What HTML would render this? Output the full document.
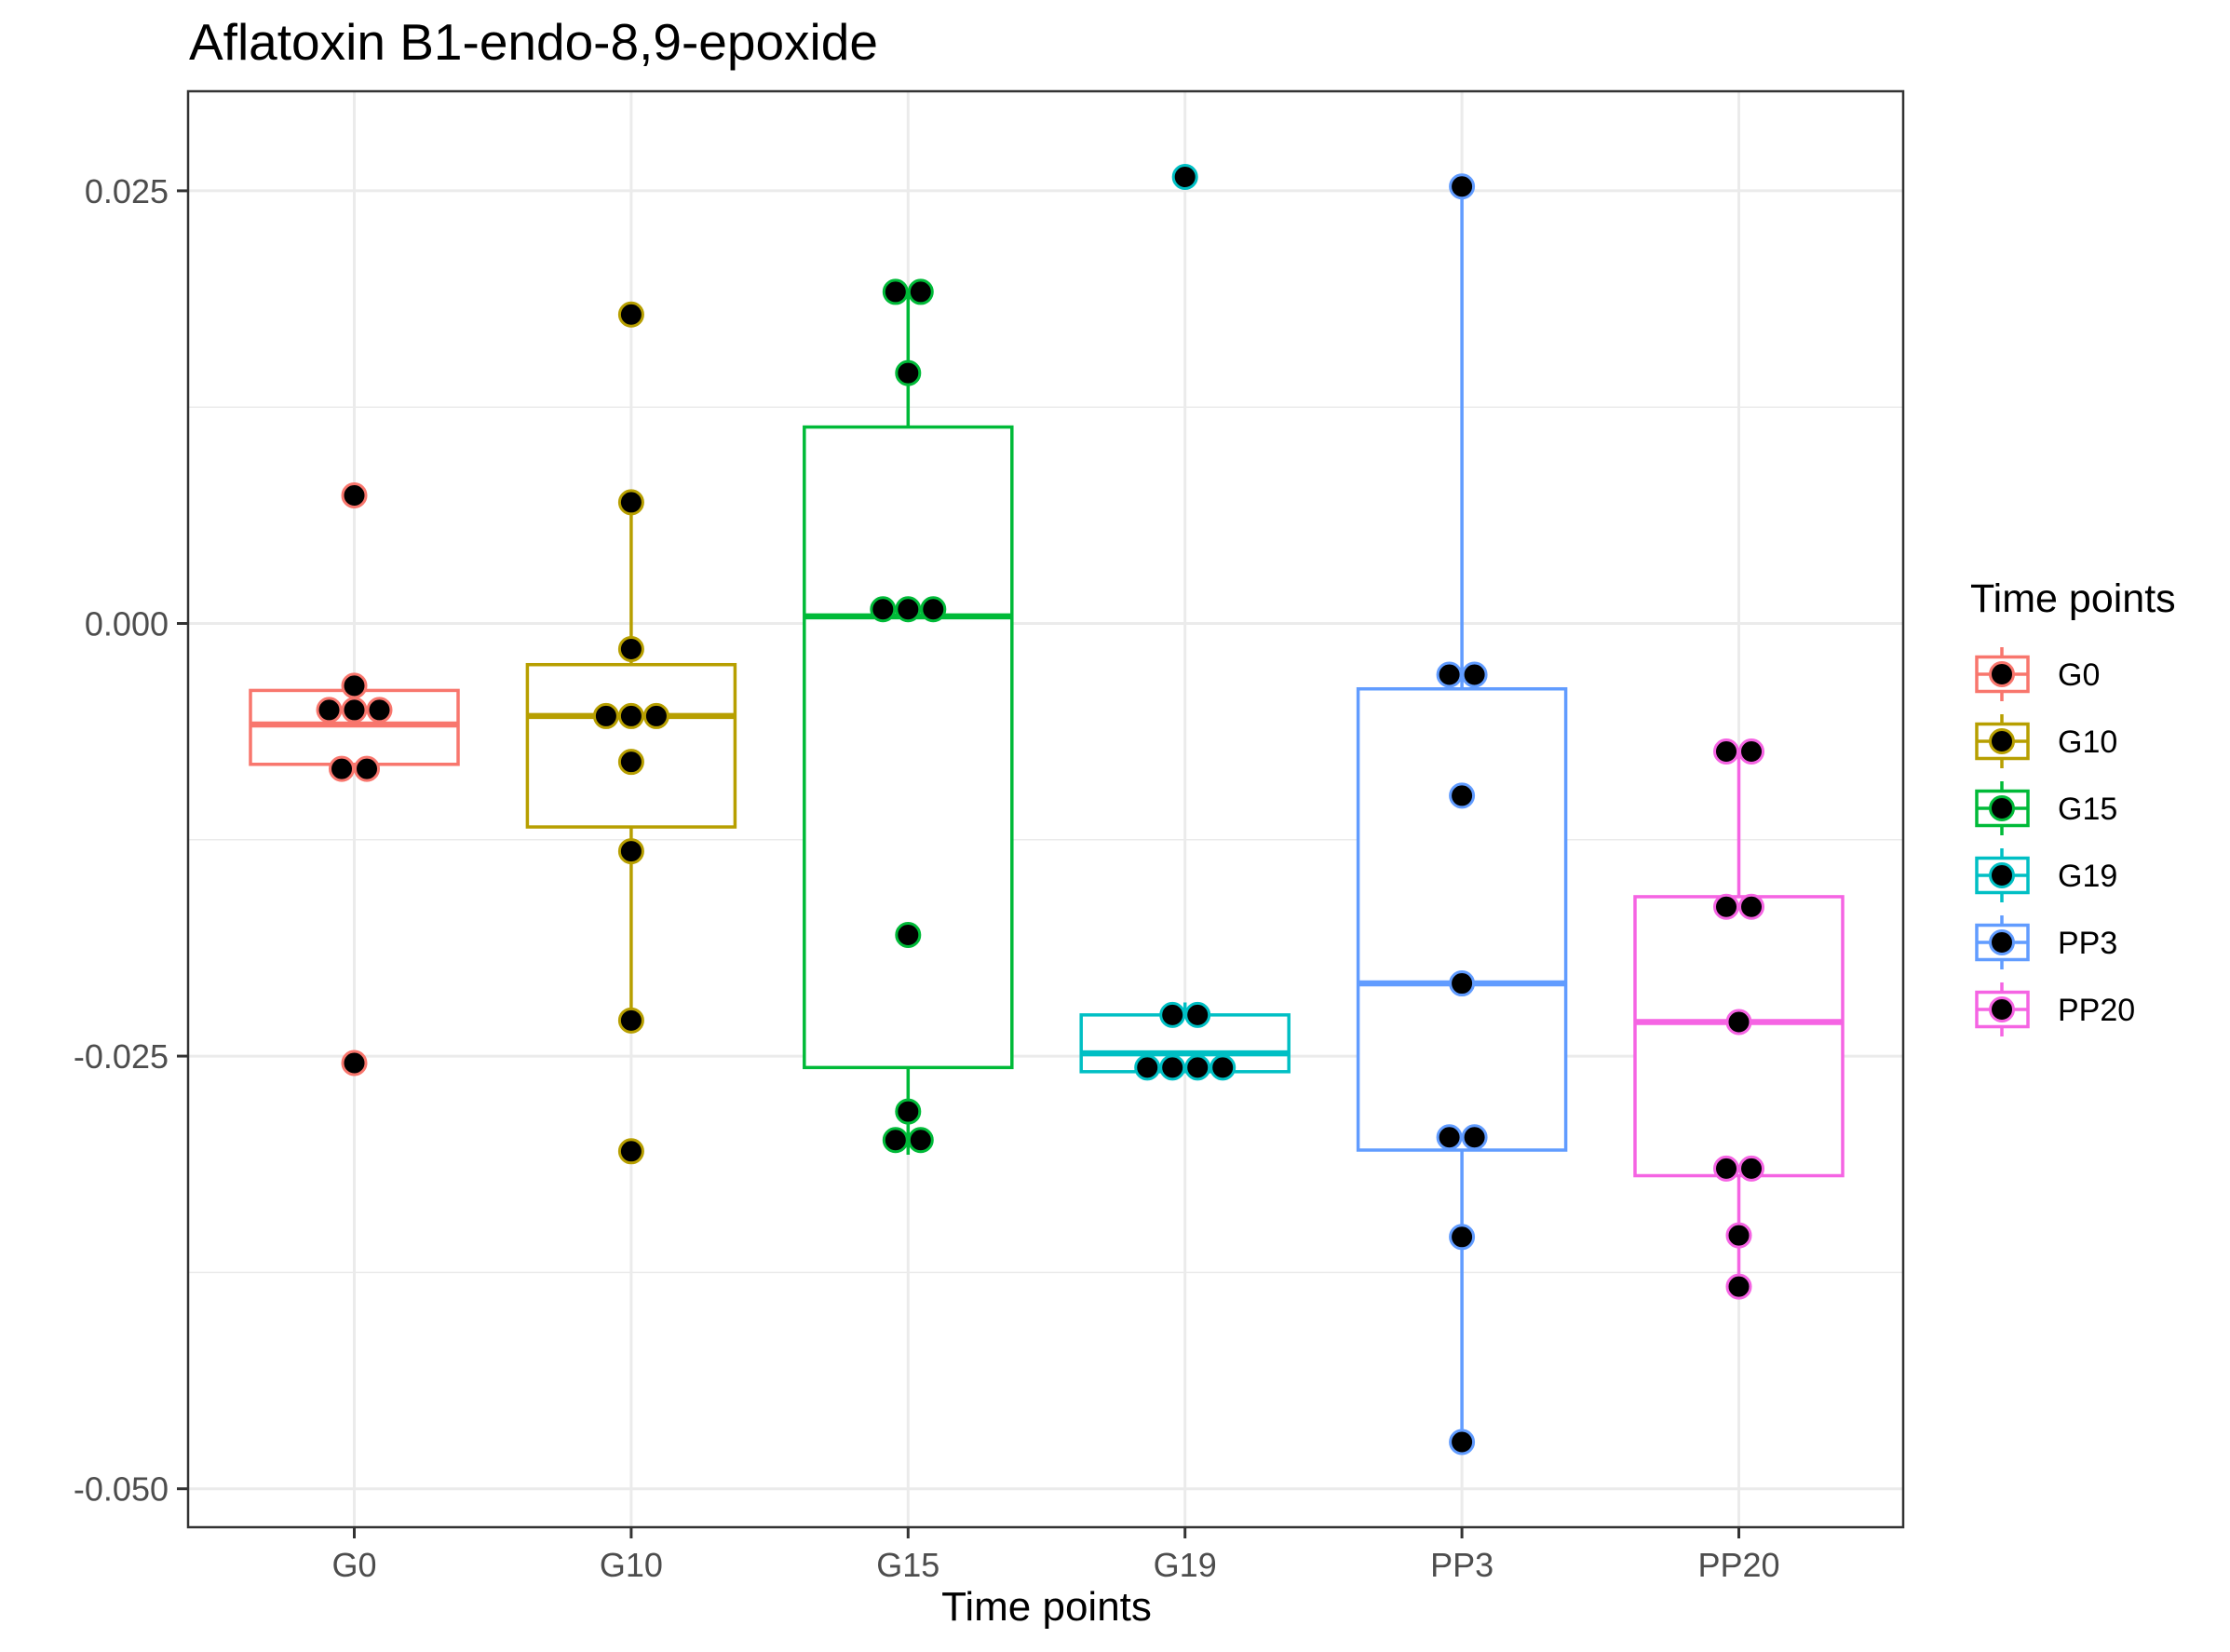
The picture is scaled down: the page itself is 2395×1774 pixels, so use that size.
<!DOCTYPE html>
<html><head><meta charset="utf-8"><style>
html,body{margin:0;padding:0;background:#fff;}
svg{display:block;font-family:"Liberation Sans",Arial,sans-serif;}
</style></head><body>
<svg id="chart" width="2395" height="1774" viewBox="0 0 2395 1774" xmlns="http://www.w3.org/2000/svg">
<text x="203" y="64" font-size="55" fill="#000">Aflatoxin B1-endo-8,9-epoxide</text>
<g id="grid"></g>
<g id="marks"></g>
<rect x="202" y="98" width="1842" height="1542" fill="none" stroke="#333" stroke-width="2.5"/>
<g id="axes"></g>
<text x="1124" y="1740" font-size="44" text-anchor="middle" fill="#000">Time points</text>
<g id="legend"></g>
</svg>
<script>
const categories = ["G0","G10","G15","G19","PP3","PP20"];
const colors = ["#F8766D","#B79F00","#00BA38","#00BFC4","#619CFF","#F564E3"];
const q1 = [-0.00814,-0.01176,-0.02566,-0.0259,-0.03043,-0.03191];
const medians = [-0.00584,-0.00535,0.00041,-0.02484,-0.0208,-0.02303];
const q3 = [-0.00387,-0.00238,0.01135,-0.02262,-0.00378,-0.01579];
const whiskerLow = [-0.0084,-0.02294,-0.0307,-0.0259,-0.0473,-0.03832];
const whiskerHigh = [-0.0036,0.0070,0.01916,-0.0219,0.02525,-0.0074];
const pointsG0 = [0.0074,-0.0036,-0.0050,-0.0050,-0.0050,-0.0084,-0.0084,-0.0254];
const pointsG10 = [0.01785,0.0070,-0.00148,-0.00535,-0.00535,-0.00535,-0.0080,-0.01316,-0.02294,-0.0305];
const pointsG15 = [0.01916,0.01916,0.01447,0.00082,0.00082,0.00082,-0.018,-0.0282,-0.02985,-0.02985];
const pointsG19 = [0.0258,-0.02262,-0.02262,-0.02566,-0.02566,-0.02566,-0.02566];
const pointsPP3 = [0.02525,-0.00296,-0.00296,-0.00995,-0.0208,-0.02969,-0.02969,-0.03545,-0.0473];
const pointsPP20 = [-0.0074,-0.0074,-0.01637,-0.01637,-0.02303,-0.0315,-0.0315,-0.03536,-0.03832];
const pointSets = [pointsG0,pointsG10,pointsG15,pointsG19,pointsPP3,pointsPP20];
const yTicks = [0.025,0.0,-0.025,-0.05];
const yTickLabels = ["0.025","0.000","-0.025","-0.050"];
const yMinor = [0.0125,-0.0125,-0.0375];

const NS="http://www.w3.org/2000/svg";
function y(v){return 669.5 - v/0.025*464.6;}
function x(i){return 380.5 + i*297.4;}
function mk(tag,attrs,parent){const e=document.createElementNS(NS,tag);for(const k in attrs)e.setAttribute(k,attrs[k]);parent.appendChild(e);return e;}
const grid=document.getElementById('grid'),marks=document.getElementById('marks'),axes=document.getElementById('axes'),legend=document.getElementById('legend');
const L=202,R=2044,T=98,B=1640;
yMinor.forEach(v=>{const l=mk('line',{x1:L,x2:R,y1:y(v),y2:y(v),stroke:'#ebebeb','stroke-width':1.5},grid);

});
yTicks.forEach((v,i)=>{const l=mk('line',{x1:L,x2:R,y1:y(v),y2:y(v),stroke:'#ebebeb','stroke-width':3},grid);


const t=mk('line',{x1:190,x2:L,y1:y(v),y2:y(v),stroke:'#333','stroke-width':3},axes);


const tx=mk('text',{x:181,y:y(v)+13,'font-size':36,'text-anchor':'end',fill:'#4d4d4d'},axes);tx.textContent=yTickLabels[i];

});
categories.forEach((c,i)=>{const l=mk('line',{x1:x(i),x2:x(i),y1:T,y2:B,stroke:'#ebebeb','stroke-width':3},grid);


const t=mk('line',{x1:x(i),x2:x(i),y1:B,y2:B+12,stroke:'#333','stroke-width':3},axes);


const tx=mk('text',{x:x(i),y:1693,'font-size':36,'text-anchor':'middle',fill:'#4d4d4d'},axes);tx.textContent=c;


const g=mk('g',{},marks);


const hw=111.5,col=colors[i];
mk('line',{x1:x(i),x2:x(i),y1:y(q3[i]),y2:y(whiskerHigh[i]),stroke:col,'stroke-width':3.5},g);
mk('line',{x1:x(i),x2:x(i),y1:y(q1[i]),y2:y(whiskerLow[i]),stroke:col,'stroke-width':3.5},g);
mk('rect',{x:x(i)-hw,y:y(q3[i]),width:2*hw,height:y(q1[i])-y(q3[i]),fill:'#fff',stroke:col,'stroke-width':3.5},g);
mk('line',{x1:x(i)-hw,x2:x(i)+hw,y1:y(medians[i]),y2:y(medians[i]),stroke:col,'stroke-width':6.5},g);
const pts=pointSets[i];const groups=[];
pts.forEach(v=>{const gg=groups.find(q=>q.v===v);if(gg)gg.n++;else groups.push({v:v,n:1});});
groups.forEach(q=>{for(let k=0;k<q.n;k++){const off=(k-(q.n-1)/2)*27;
const p=mk('circle',{cx:x(i)+off,cy:y(q.v),r:12.5,fill:'#000',stroke:col,'stroke-width':3},marks);

}});
const ly=724+i*72;
const lg=mk('g',{},legend);


mk('line',{x1:2150,x2:2150,y1:ly-29,y2:ly+29,stroke:col,'stroke-width':3.5},lg);
mk('rect',{x:2123,y:ly-18.5,width:55,height:37,fill:'#fff',stroke:col,'stroke-width':3.5},lg);
mk('line',{x1:2123,x2:2178,y1:ly,y2:ly,stroke:col,'stroke-width':3.5},lg);
mk('circle',{cx:2150,cy:ly,r:12.5,fill:'#000',stroke:col,'stroke-width':3},lg);
const lt=mk('text',{x:2210,y:ly+12,'font-size':34,fill:'#000'},lg);lt.textContent=c;
});
const ltitle=mk('text',{x:2116,y:657,'font-size':43,fill:'#000'},legend);ltitle.textContent='Time points';


</script>
</body></html>
